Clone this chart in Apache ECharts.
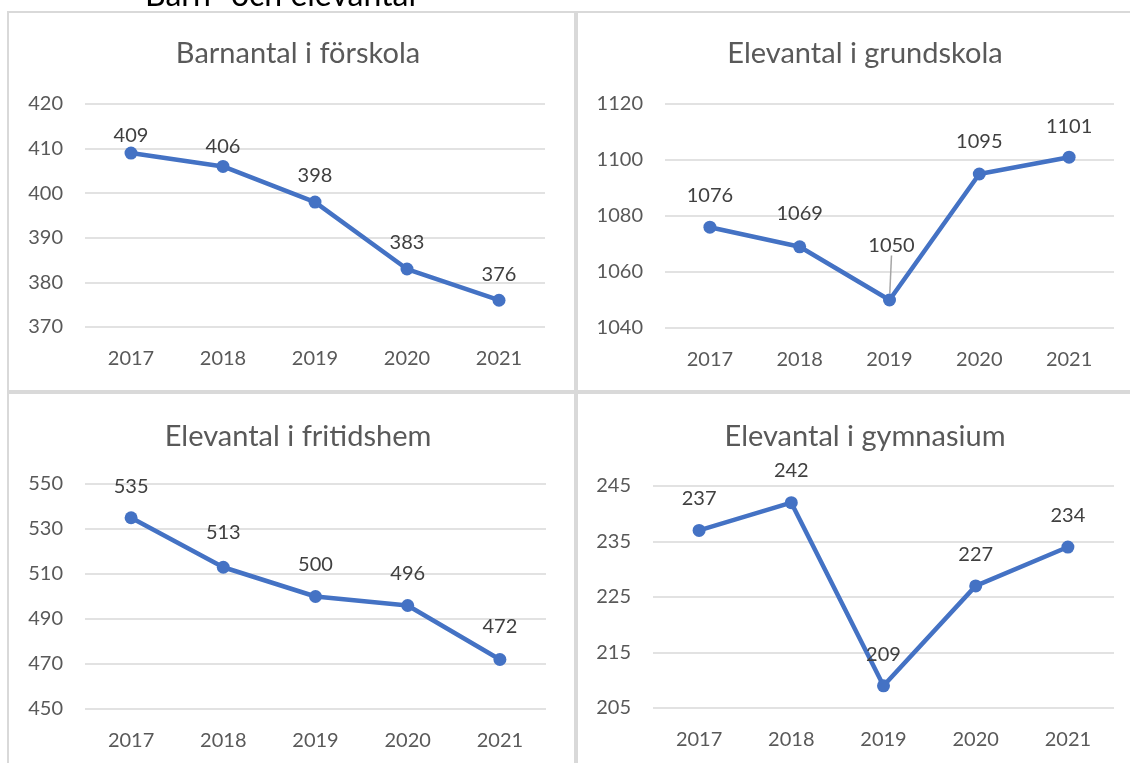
<!DOCTYPE html>
<html>
<head>
<meta charset="utf-8">
<script src="https://cdn.jsdelivr.net/npm/echarts@6/dist/echarts.min.js"></script>
<style>
  html, body { margin: 0; padding: 0; background: #fff; }
  #main { width: 1130px; height: 763px; }
</style>
</head>
<body>
<div id="main"></div>
<script>
// data
const years = ['2017', '2018', '2019', '2020', '2021'];
const forskola = [409, 406, 398, 383, 376];
const grundskola = [1076, 1069, 1050, 1095, 1101];
const fritidshem = [535, 513, 500, 496, 472];
const gymnasium = [237, 242, 209, 227, 234];

const titles = ['Barnantal i förskola', 'Elevantal i grundskola', 'Elevantal i fritidshem', 'Elevantal i gymnasium'];

const font = 'Lato';
const blue = '#4472C4';
const grey = '#595959';

// panel layout (px)
const grids = [
  { left: 85, top: 104, width: 460, height: 223 },
  { left: 665, top: 104, width: 449, height: 224 },
  { left: 85, top: 484, width: 461, height: 225 },
  { left: 653, top: 486, width: 461, height: 222 }
];
const yRange = [
  { min: 370, max: 420, interval: 10 },
  { min: 1040, max: 1120, interval: 20 },
  { min: 450, max: 550, interval: 20 },
  { min: 205, max: 245, interval: 10 }
];
// label gap above each point
const gaps = [
  [1, 3, 10, 10, 9],
  [15, 17, 24, 16, 14],
  [15, 18, 15, 15, 16],
  [15, 16, 15, 15, 15]
];

const allData = [forskola, grundskola, fritidshem, gymnasium];

const option = {
  animation: false,
  backgroundColor: '#fff',
  title: titles.map((t, i) => ({
    text: t,
    left: (i % 2 === 0 ? 293 : 860),
    top: (i < 2 ? 34 : 417),
    textAlign: 'center',
    textStyle: { fontFamily: font, fontSize: 29, fontWeight: 'normal', color: grey }
  })),
  grid: grids,
  xAxis: grids.map((g, i) => ({
    type: 'category',
    gridIndex: i,
    data: years,
    axisLine: { show: false },
    axisTick: { show: false },
    axisLabel: { fontFamily: font, fontSize: 20, color: grey, margin: 22 }
  })),
  yAxis: yRange.map((r, i) => ({
    type: 'value',
    gridIndex: i,
    min: r.min,
    max: r.max,
    interval: r.interval,
    axisLine: { show: false },
    axisTick: { show: false },
    axisLabel: { fontFamily: font, fontSize: 20, color: grey, margin: 22, formatter: v => String(v) },
    splitLine: { lineStyle: { color: '#d9d9d9', width: 1.5 } }
  })),
  series: allData.map((arr, i) => ({
    type: 'line',
    xAxisIndex: i,
    yAxisIndex: i,
    symbol: 'circle',
    symbolSize: 13,
    lineStyle: { color: blue, width: 4.5 },
    itemStyle: { color: blue },
    data: arr.map((v, j) => ({
      value: v,
      label: { distance: gaps[i][j] },
      labelLine: (i === 1 && j === 2) ? { show: true, lineStyle: { color: '#a6a6a6', width: 1.5 } } : { show: false }
    })),
    label: {
      show: true,
      position: 'top',
      fontFamily: font,
      fontSize: 20,
      color: '#404040'
    },
    labelLayout: (i === 1) ? function (p) {
      if (p.dataIndex === 2) return { dy: -14, dx: 2 };
      return {};
    } : undefined
  })),
  graphic: [
    { type: 'rect', shape: { x: 8, y: 12, width: 567, height: 379 }, style: { fill: 'none', stroke: '#d9d9d9', lineWidth: 2 }, silent: true },
    { type: 'rect', shape: { x: 577, y: 12, width: 560, height: 379 }, style: { fill: 'none', stroke: '#d9d9d9', lineWidth: 2 }, silent: true },
    { type: 'rect', shape: { x: 8, y: 393, width: 567, height: 380 }, style: { fill: 'none', stroke: '#d9d9d9', lineWidth: 2 }, silent: true },
    { type: 'rect', shape: { x: 577, y: 393, width: 560, height: 380 }, style: { fill: 'none', stroke: '#d9d9d9', lineWidth: 2 }, silent: true },
    {
      type: 'text', left: 145, top: -20, silent: true,
      style: { text: 'Barn- och elevantal', font: '32px ' + font, fill: '#000' }
    }
  ]
};

const E = echarts.init(document.getElementById('main'));
E.setOption(option);
</script>
</body>
</html>
